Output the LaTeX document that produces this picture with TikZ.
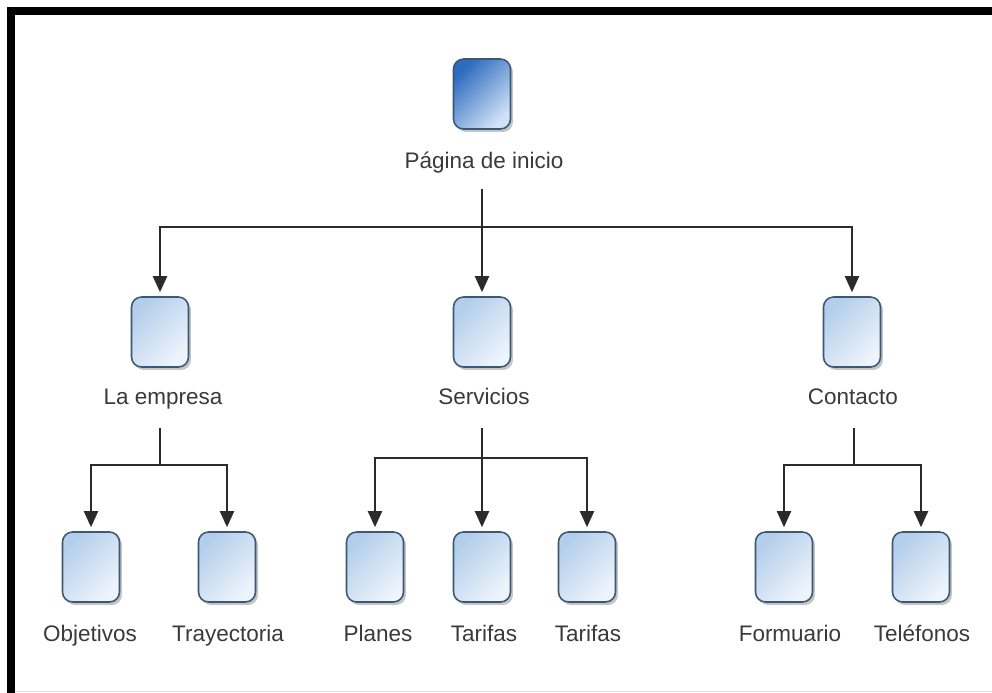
\documentclass[tikz,border=0pt]{standalone}
\usepackage{fontspec}
\setmainfont{Liberation Sans}
\usetikzlibrary{arrows.meta,shadows}
\definecolor{boxline}{HTML}{3B5875}
\definecolor{boxtl}{HTML}{B3CEEB}
\definecolor{boxbr}{HTML}{EEF4FB}
\definecolor{toptl}{HTML}{2C6BBF}
\definecolor{topbr}{HTML}{D2E2F6}
\definecolor{linkcol}{HTML}{2B2B2B}
\definecolor{txtcol}{HTML}{3A3A3A}
\tikzset{
  pagebox/.style={draw=boxline, line width=0.9pt, rounded corners=0.2cm,
    minimum width=1.14cm, minimum height=1.4cm,
    top color=boxtl, bottom color=boxbr, shading angle=45,
    drop shadow={shadow xshift=0.05cm, shadow yshift=-0.06cm, opacity=0.45}},
  homebox/.style={pagebox, top color=toptl, bottom color=topbr, shading angle=45},
  lbl/.style={font=\fontsize{12.8}{15}\selectfont, text=txtcol, inner sep=0pt,
    text height=9.4pt, text depth=2.6pt},
  link/.style={draw=linkcol, line width=1.1pt},
  arrowlink/.style={link, -{Triangle[width=0.28cm,length=0.32cm]}, shorten >=0.08cm},
}

\begin{document}
\begin{tikzpicture}[x=0.02cm,y=-0.02cm]
\useasboundingbox (0,0) rectangle (992,693);
\fill[white] (0,0) rectangle (992,693);
\fill[black] (7,7) rectangle (992,15);
\fill[black] (7,7) rectangle (15,693);
\draw[gray!25, line width=0.02cm] (15,691) -- (992,691);

\node[homebox] (ini) at (482,94) {};
\node[lbl] (ini-lbl) at (484,163) {Página de inicio};

\node[pagebox] (emp) at (160,332) {};
\node[pagebox] (ser) at (482,332) {};
\node[pagebox] (con) at (852,332) {};
\node[lbl] (emp-lbl) at (163,399) {La empresa};
\node[lbl] (ser-lbl) at (484,399) {Servicios};
\node[lbl] (con-lbl) at (853,399) {Contacto};

\node[pagebox] (obj) at (91,567) {};
\node[pagebox] (tra) at (227,567) {};
\node[pagebox] (pla) at (375,567) {};
\node[pagebox] (tar1) at (482,567) {};
\node[pagebox] (tar2) at (587,567) {};
\node[pagebox] (for) at (784,567) {};
\node[pagebox] (tel) at (921,567) {};
\node[lbl] (obj-lbl) at (90,636) {Objetivos};
\node[lbl] (tra-lbl) at (228,636) {Trayectoria};
\node[lbl] (pla-lbl) at (378,636) {Planes};
\node[lbl] (tar1-lbl) at (484,636) {Tarifas};
\node[lbl] (tar2-lbl) at (588,636) {Tarifas};
\node[lbl] (for-lbl) at (790,636) {Formuario};
\node[lbl] (tel-lbl) at (922,636) {Teléfonos};

\coordinate (ini-out) at (482,189);
\coordinate (ini-j) at (482,227);
\coordinate (emp-out) at (160,428);
\coordinate (emp-j) at (160,465);
\coordinate (ser-out) at (482,428);
\coordinate (ser-j) at (482,458);
\coordinate (con-out) at (854,428);
\coordinate (con-j) at (854,465);

\draw[link] (ini-out) -- (ini-j);
\draw[link] (emp |- ini-j) -- (con |- ini-j);
\draw[arrowlink] (ini-j) -| (emp);
\draw[arrowlink] (ini-j) -- (ser);
\draw[arrowlink] (ini-j) -| (con);

\draw[link] (emp-out) -- (emp-j);
\draw[arrowlink] (emp-j) -| (obj);
\draw[arrowlink] (emp-j) -| (tra);

\draw[link] (ser-out) -- (ser-j);
\draw[arrowlink] (ser-j) -| (pla);
\draw[arrowlink] (ser-j) -- (tar1);
\draw[arrowlink] (ser-j) -| (tar2);

\draw[link] (con-out) -- (con-j);
\draw[arrowlink] (con-j) -| (for);
\draw[arrowlink] (con-j) -| (tel);
\end{tikzpicture}
\end{document}
